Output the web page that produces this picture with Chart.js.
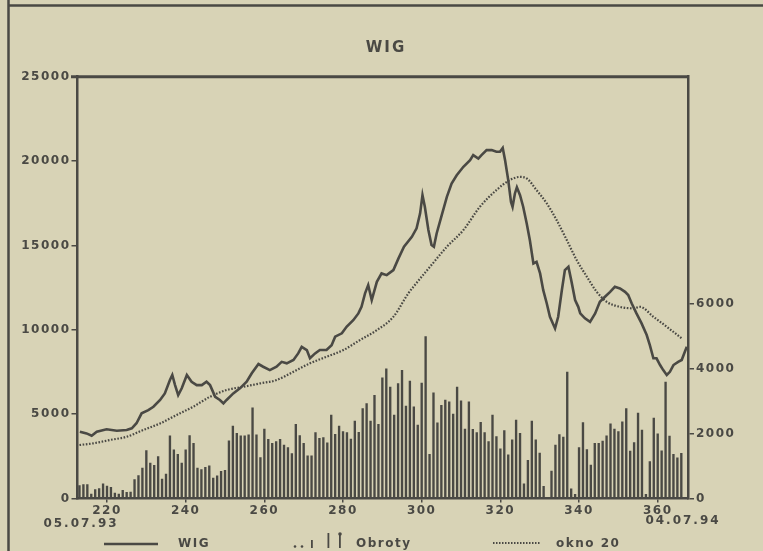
<!DOCTYPE html>
<html>
<head>
<meta charset="utf-8">
<script src="https://cdn.jsdelivr.net/npm/chart.js@4/dist/chart.umd.min.js"></script>
<style>
  html, body { margin: 0; padding: 0; background: #d8d3b6; }
  #wrap { position: relative; width: 763px; height: 551px; }
  canvas { display: block; }
</style>
</head>
<body>
<div id="wrap"><canvas id="c" width="763" height="551"></canvas></div>
<script>
// ---------------- DATA ----------------
const chartTitle = 'WIG';
const startDateLabel = '05.07.93';
const endDateLabel = '04.07.94';
const xTickValues = [220, 240, 260, 280, 300, 320, 340, 360];
const leftTickValues = [0, 5000, 10000, 15000, 20000, 25000];
const rightTickValues = [0, 2000, 4000, 6000];
const seriesNames = ['WIG', 'Obroty', 'okno 20'];

// WIG index (left axis)
const wigDays = [213.1, 214.8, 216.1, 217.4, 219.9, 222.5, 225.0, 226.3, 227.5, 228.8, 230.5, 231.8, 233.5, 234.7, 236.0, 236.6, 237.3, 238.1, 239.0, 240.3, 241.5, 242.8, 244.1, 245.3, 246.2, 247.5, 248.7, 249.6, 250.4, 252.1, 253.8, 255.5, 256.8, 258.5, 259.7, 261.4, 263.1, 264.4, 265.7, 267.4, 268.6, 269.5, 270.8, 271.6, 272.9, 274.1, 275.8, 277.1, 278.0, 279.7, 280.9, 282.6, 283.9, 284.7, 285.6, 286.4, 287.3, 288.6, 289.8, 291.1, 292.8, 294.1, 295.5, 297.5, 298.7, 299.6, 300.2, 300.8, 301.7, 302.5, 303.1, 303.8, 305.1, 306.4, 307.6, 308.9, 310.6, 312.3, 313.1, 314.4, 315.2, 316.5, 317.8, 319.0, 319.9, 320.6, 321.2, 322.0, 322.7, 323.1, 323.7, 324.2, 325.0, 325.8, 326.7, 327.5, 328.4, 329.2, 330.1, 330.9, 331.8, 332.6, 333.9, 334.7, 335.6, 336.4, 337.3, 338.1, 339.0, 339.8, 340.3, 341.5, 342.8, 344.1, 345.3, 346.6, 347.9, 349.1, 350.4, 351.7, 352.5, 353.4, 354.6, 355.9, 357.2, 358.0, 358.9, 359.7, 360.6, 361.4, 362.3, 363.1, 364.0, 365.2, 366.1, 366.9, 367.4];
const wigValues = [3960, 3860, 3720, 3960, 4100, 4020, 4060, 4160, 4460, 5050, 5240, 5440, 5840, 6230, 7020, 7320, 6720, 6130, 6530, 7320, 6920, 6720, 6720, 6920, 6720, 6030, 5840, 5640, 5840, 6230, 6530, 6920, 7420, 7970, 7810, 7610, 7810, 8100, 8010, 8210, 8600, 8990, 8800, 8310, 8600, 8800, 8800, 9090, 9590, 9790, 10180, 10570, 10970, 11360, 12160, 12650, 11760, 12840, 13340, 13240, 13540, 14230, 14920, 15510, 16010, 16900, 17980, 17290, 15910, 15020, 14920, 15710, 16800, 17880, 18670, 19160, 19660, 20050, 20350, 20150, 20350, 20650, 20650, 20550, 20550, 20780, 20050, 18870, 17580, 17290, 18080, 18440, 17980, 17290, 16300, 15310, 13930, 14030, 13340, 12350, 11560, 10770, 10080, 10770, 12300, 13540, 13730, 12840, 11760, 11360, 10970, 10680, 10470, 10970, 11660, 11960, 12250, 12550, 12450, 12250, 12060, 11560, 10970, 10380, 9690, 9090, 8310, 8310, 7910, 7610, 7320, 7510, 7910, 8100, 8210, 8700, 8990];

// 20-session window (dotted line, left axis)
const maDays = [213, 216.5, 220.8, 225.0, 229.2, 233.5, 237.7, 241.9, 246.2, 250.4, 254.6, 258.9, 263.1, 267.4, 271.6, 275.8, 280.1, 284.3, 288.6, 292.8, 296.6, 297.9, 302.1, 306.4, 310.6, 314.8, 319.0, 322.4, 325.0, 326.7, 329.2, 331.8, 334.3, 336.9, 339.4, 342.0, 344.5, 347.0, 350.4, 353.8, 355.5, 358.9, 362.3, 366.1];
const maValues = [3170, 3270, 3470, 3660, 4060, 4450, 4950, 5440, 6030, 6430, 6620, 6820, 7020, 7510, 8010, 8400, 8800, 9390, 9980, 10770, 12160, 12550, 13730, 14920, 15910, 17290, 18280, 18870, 19060, 18970, 18280, 17490, 16500, 15310, 14130, 13140, 12250, 11660, 11360, 11270, 11360, 10770, 10180, 9490];

// Turnover (Obroty, right axis), one bar per session
const volDays = [213, 214, 215, 216, 217, 218, 219, 220, 221, 222, 223, 224, 225, 226, 227, 228, 229, 230, 231, 232, 233, 234, 235, 236, 237, 238, 239, 240, 241, 242, 243, 244, 245, 246, 247, 248, 249, 250, 251, 252, 253, 254, 255, 256, 257, 258, 259, 260, 261, 262, 263, 264, 265, 266, 267, 268, 269, 270, 271, 272, 273, 274, 275, 276, 277, 278, 279, 280, 281, 282, 283, 284, 285, 286, 287, 288, 289, 290, 291, 292, 293, 294, 295, 296, 297, 298, 299, 300, 301, 302, 303, 304, 305, 306, 307, 308, 309, 310, 311, 312, 313, 314, 315, 316, 317, 318, 319, 320, 321, 322, 323, 324, 325, 326, 327, 328, 329, 330, 331, 333, 334, 335, 336, 337, 338, 339, 340, 341, 342, 343, 344, 345, 346, 347, 348, 349, 350, 351, 352, 353, 354, 355, 356, 357, 358, 359, 360, 361, 362, 363, 364, 365, 366];
const volValues = [400, 430, 430, 140, 275, 305, 450, 385, 345, 170, 140, 255, 190, 200, 580, 710, 935, 1480, 1090, 1020, 1295, 600, 755, 1930, 1500, 1360, 1090, 1500, 1940, 1700, 935, 890, 960, 1010, 630, 700, 835, 865, 1775, 2235, 2010, 1930, 1930, 1960, 2795, 1960, 1265, 2140, 1825, 1700, 1755, 1825, 1650, 1570, 1385, 2285, 1940, 1700, 1315, 1315, 2030, 1855, 1875, 1715, 2570, 1980, 2235, 2060, 2030, 1835, 2385, 2040, 2775, 2925, 2385, 3180, 2285, 3720, 4000, 3435, 2570, 3540, 3950, 2845, 3620, 2825, 2265, 3560, 4990, 1365, 3255, 2335, 2875, 3030, 2980, 2600, 3435, 3010, 2140, 2980, 2130, 2030, 2345, 2030, 1755, 2570, 1905, 1530, 2090, 1345, 1805, 2420, 2010, 450, 1180, 2385, 1805, 1400, 375, 845, 1650, 1970, 1890, 3900, 300, 125, 1570, 2340, 1510, 1030, 1700, 1700, 1770, 1930, 2300, 2140, 2060, 2365, 2775, 1460, 1720, 2630, 2110, 130, 1140, 2480, 1990, 1470, 3590, 1920, 1365, 1250, 1395];

// ---------------- STYLE ----------------
const INK = '#4a4944';
const PAPER = '#d8d3b6';
const FONT = 'DejaVu Sans';

Chart.defaults.font.family = FONT;
Chart.defaults.font.weight = 'bold';
Chart.defaults.font.size = 12;
Chart.defaults.color = INK;

const pairs = (xs, ys) => xs.map((x, i) => ({ x: x, y: ys[i] }));

const decor = {
  id: 'decor',
  beforeDraw(chart) {
    const ctx = chart.ctx;
    ctx.save();
    ctx.fillStyle = PAPER;
    ctx.fillRect(0, 0, chart.width, chart.height);
    // newspaper box rules
    ctx.strokeStyle = INK;
    ctx.lineWidth = 2.5;
    ctx.beginPath();
    ctx.moveTo(8.5, 0); ctx.lineTo(8.5, chart.height);
    ctx.moveTo(8.5, 5.5); ctx.lineTo(chart.width, 5.5);
    ctx.stroke();
    ctx.restore();
    ctx.letterSpacing = '1.5px';
  },
  afterDraw(chart) {
    const ctx = chart.ctx;
    const a = chart.chartArea;
    ctx.save();
    ctx.strokeStyle = INK;
    ctx.fillStyle = INK;
    // heavy top frame line
    ctx.lineWidth = 3;
    ctx.beginPath();
    ctx.moveTo(71, a.top); ctx.lineTo(a.right + 1, a.top);
    ctx.stroke();

    ctx.textBaseline = 'middle';
    // title
    ctx.letterSpacing = '2px';
    ctx.font = 'bold 15px ' + FONT;
    ctx.textAlign = 'center';
    ctx.fillText(chartTitle, 386, 48);

    // date labels under the axis ends
    ctx.font = 'bold 12px ' + FONT;
    ctx.letterSpacing = '2px';
    ctx.fillText(startDateLabel, 81, 524);
    ctx.fillText(endDateLabel, 683, 521);

    // legend
    const ly = 544;
    ctx.letterSpacing = '1.5px';
    ctx.textAlign = 'left';
    ctx.lineWidth = 2.5;
    ctx.beginPath(); ctx.moveTo(104, ly); ctx.lineTo(158, ly); ctx.stroke();
    ctx.fillText(seriesNames[0], 178, ly);

    // bar icon
    ctx.beginPath(); ctx.arc(295, ly + 2.5, 1.3, 0, Math.PI * 2); ctx.fill();
    ctx.beginPath(); ctx.arc(302, ly + 2.5, 1.3, 0, Math.PI * 2); ctx.fill();
    ctx.fillRect(311, ly - 4, 1.8, 8);
    ctx.fillRect(327.5, ly - 11, 1.8, 15);
    ctx.fillRect(339, ly - 11, 1.8, 15);
    ctx.beginPath(); ctx.arc(340, ly - 10, 1.8, 0, Math.PI * 2); ctx.fill();
    ctx.fillText(seriesNames[1], 356, ly);

    // dotted icon
    ctx.lineWidth = 2;
    ctx.setLineDash([1.5, 1.5]);
    ctx.beginPath(); ctx.moveTo(493, ly - 1); ctx.lineTo(540, ly - 1); ctx.stroke();
    ctx.setLineDash([]);
    ctx.fillText(seriesNames[2], 556, ly);
    ctx.restore();
  }
};

new Chart(document.getElementById('c'), {
  type: 'bar',
  data: {
    datasets: [
      {
        type: 'line',
        label: seriesNames[0],
        data: pairs(wigDays, wigValues),
        yAxisID: 'y',
        borderColor: INK,
        borderWidth: 2.6,
        pointRadius: 0,
        tension: 0,
        order: 1
      },
      {
        type: 'line',
        label: seriesNames[2],
        data: pairs(maDays, maValues),
        yAxisID: 'y',
        borderColor: INK,
        borderWidth: 2.2,
        borderDash: [1.6, 1.6],
        pointRadius: 0,
        cubicInterpolationMode: 'monotone',
        order: 2
      },
      {
        type: 'bar',
        label: seriesNames[1],
        data: pairs(volDays, volValues),
        yAxisID: 'y1',
        backgroundColor: INK,
        barThickness: 1.7,
        order: 3
      }
    ]
  },
  options: {
    responsive: false,
    animation: false,
    devicePixelRatio: 1,
    layout: { padding: { top: 76.7, left: 0, right: 0, bottom: 0 } },
    plugins: {
      legend: { display: false },
      title: { display: false },
      tooltip: { enabled: false }
    },
    scales: {
      x: {
        type: 'linear',
        offset: false,
        min: 212.5,
        max: 367.7,
        afterBuildTicks(s) { s.ticks = xTickValues.map(v => ({ value: v })); },
        afterFit(s) { s.height = 52.5; },
        ticks: { padding: 1, maxRotation: 0, autoSkip: false, callback: v => String(v) },
        grid: { drawOnChartArea: false, offset: false, tickLength: 4, color: INK, lineWidth: 1.5 },
        border: { display: true, color: INK, width: 2.5 }
      },
      y: {
        position: 'left',
        min: 0,
        max: 25000,
        afterBuildTicks(s) { s.ticks = leftTickValues.map(v => ({ value: v })); },
        afterFit(s) { s.width = 77.5; },
        ticks: { padding: 1, callback: v => String(v) },
        grid: { drawOnChartArea: false, tickLength: 6, color: INK, lineWidth: 1.5 },
        border: { display: true, color: INK, width: 2.5 }
      },
      y1: {
        position: 'right',
        min: 0,
        max: 13000,
        afterBuildTicks(s) { s.ticks = rightTickValues.map(v => ({ value: v })); },
        afterFit(s) { s.width = 75; },
        ticks: { padding: 2, callback: v => String(v) },
        grid: { drawOnChartArea: false, tickLength: 6, color: INK, lineWidth: 1.5 },
        border: { display: true, color: INK, width: 2.5 }
      }
    }
  },
  plugins: [decor]
});
</script>
</body>
</html>
